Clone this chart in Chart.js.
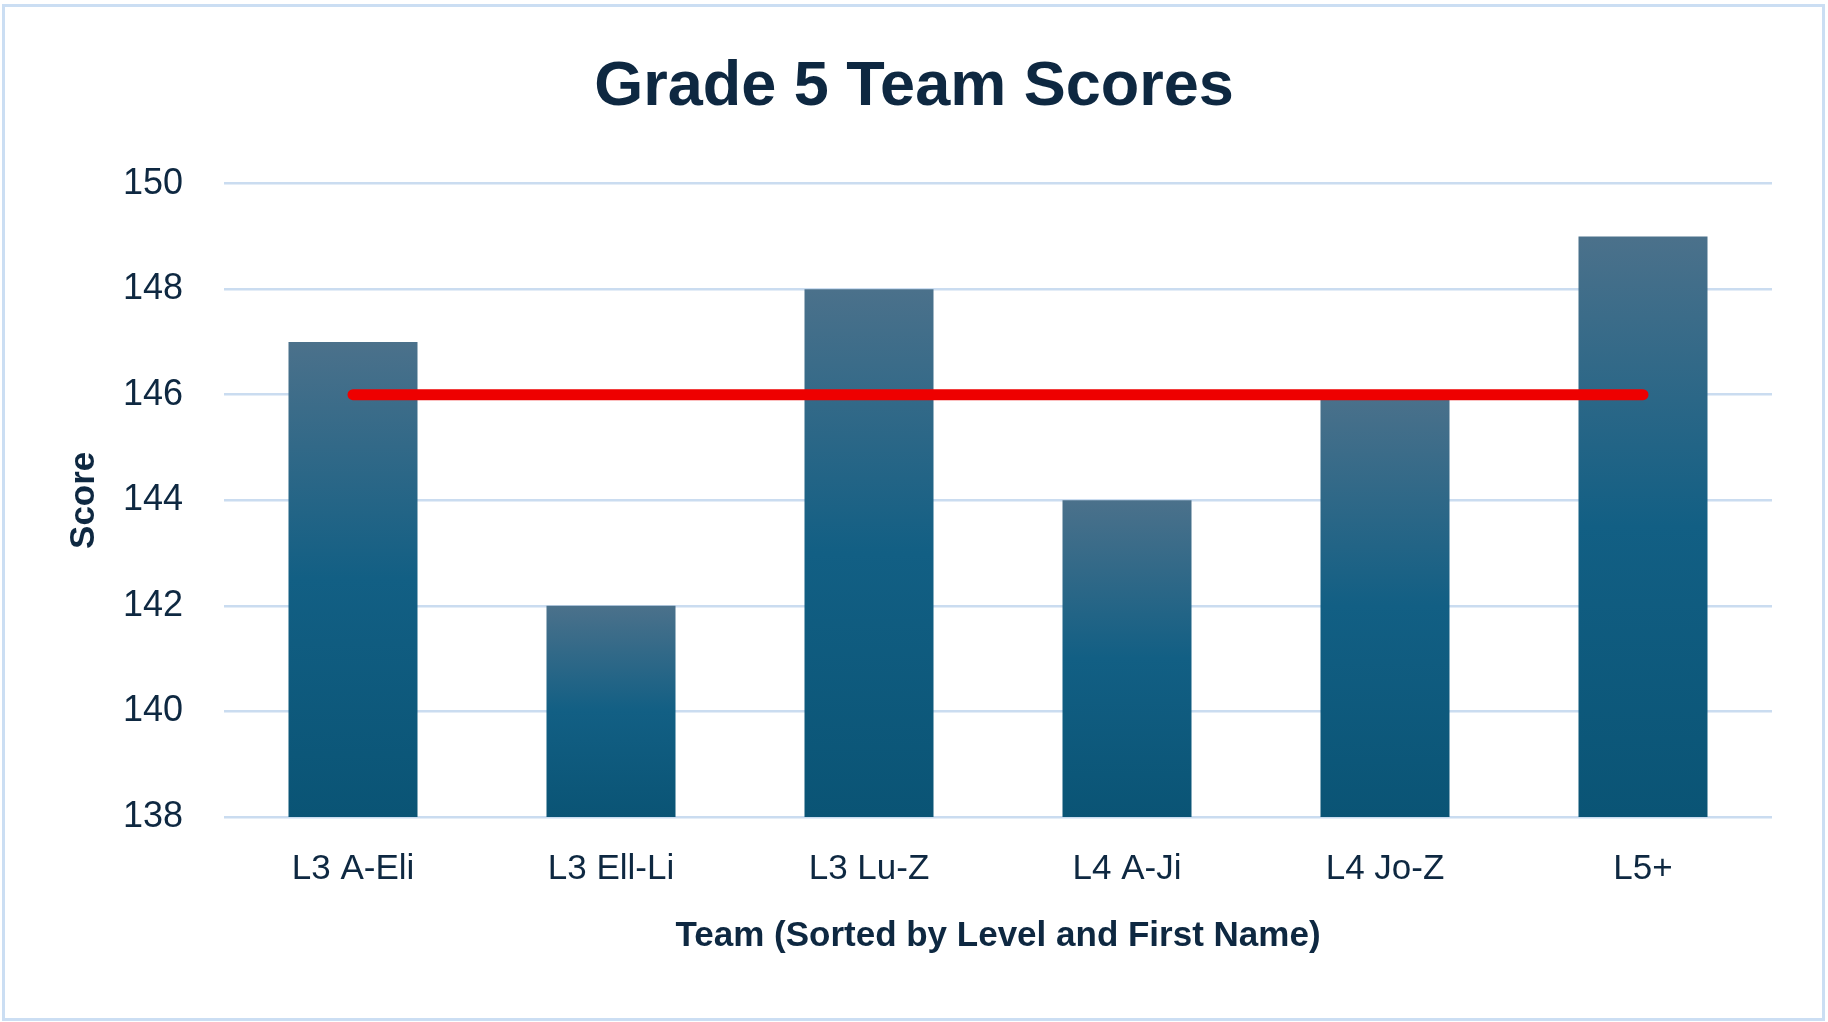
<!DOCTYPE html>
<html>
<head>
<meta charset="utf-8">
<title>Grade 5 Team Scores</title>
<script src="https://cdn.jsdelivr.net/npm/chart.js@4.4.1/dist/chart.umd.min.js"></script>
<style>
  html, body { margin: 0; padding: 0; background: #ffffff; }
  #wrap { position: relative; width: 1828px; height: 1022px; }
  #frame {
    position: absolute; left: 2px; top: 4px; width: 1817px; height: 1011px;
    border: 3px solid #cbdef3; pointer-events: none;
  }
  canvas { position: absolute; left: 0; top: 0; }
</style>
</head>
<body>
<div id="wrap">
  <canvas id="myChart" width="1828" height="1022" style="width:1828px;height:1022px"></canvas>
  <div id="frame"></div>
</div>
<script>
const teams = ["L3 A-Eli", "L3 Ell-Li", "L3 Lu-Z", "L4 A-Ji", "L4 Jo-Z", "L5+"];
const scores = [147, 142, 148, 144, 146, 149];
const average = [146, 146, 146, 146, 146, 146];
const yMin = 138;
const yMax = 150;
const yStep = 2;

const navy = "#0e2841";
const font = "'Liberation Sans', Arial, sans-serif";

// each bar gets its own gradient, light at the top, dark at the bottom
function barGradient(context) {
  const chart = context.chart;
  const { ctx, chartArea, scales } = chart;
  if (!chartArea || context.raw === undefined) return "#125e82";
  const top = scales.y.getPixelForValue(context.raw);
  const bottom = scales.y.getPixelForValue(yMin);
  const g = ctx.createLinearGradient(0, top, 0, bottom);
  g.addColorStop(0, "#4b718b");
  g.addColorStop(0.5, "#125f84");
  g.addColorStop(1, "#0a5475");
  return g;
}

const ctx = document.getElementById("myChart");

const myChart = new Chart(ctx, {
  type: "bar",
  data: {
    labels: teams,
    datasets: [
      {
        type: "line",
        label: "Average",
        data: average,
        borderColor: "#ee0000",
        borderWidth: 11,
        borderCapStyle: "round",
        pointRadius: 0,
        fill: false,
        order: 0,
      },
      {
        label: "Score",
        data: scores,
        backgroundColor: barGradient,
        borderWidth: 0,
        barPercentage: 0.5,
        categoryPercentage: 1,
        order: 1,
      },
    ],
  },
  options: {
    responsive: false,
    devicePixelRatio: 1,
    animation: false,
    layout: {
      padding: { left: 56, right: 56, top: 0, bottom: 0 },
    },
    plugins: {
      legend: false,
      tooltip: { enabled: false },
      title: {
        display: true,
        text: "Grade 5 Team Scores",
        color: navy,
        font: { family: font, size: 63, weight: "bold", lineHeight: 1.2 },
        padding: { top: 50, bottom: 58 },
      },
    },
    scales: {
      x: {
        grid: { display: false, drawTicks: false },
        border: { display: false },
        ticks: {
          color: navy,
          font: { family: font, size: 35, lineHeight: 1.2 },
          padding: 31,
          maxRotation: 0,
        },
        title: {
          display: true,
          text: "Team (Sorted by Level and First Name)",
          color: navy,
          font: { family: font, size: 35, weight: "bold", lineHeight: 1.2 },
          padding: { top: 0, bottom: 65 },
        },
        afterFit: function (scale) {
          scale.height = 205;
        },
      },
      y: {
        min: yMin,
        max: yMax,
        grid: { color: "#cadcf0", lineWidth: 2.5, drawTicks: false },
        border: { display: false },
        ticks: {
          stepSize: yStep,
          color: navy,
          font: { family: font, size: 36, lineHeight: 1.2 },
          padding: 41,
        },
        title: {
          display: true,
          text: "Score",
          color: navy,
          font: { family: font, size: 35, weight: "bold", lineHeight: 1.2 },
          padding: { top: 7, bottom: 0 },
        },
        afterFit: function (scale) {
          scale.width = 168;
        },
      },
    },
  },
});
</script>
</body>
</html>
